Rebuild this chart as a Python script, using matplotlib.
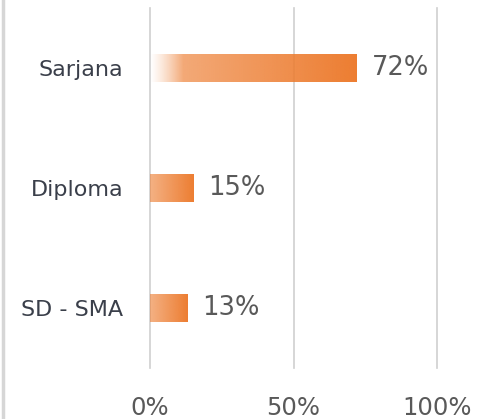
import numpy as np
import matplotlib.pyplot as plt
from matplotlib.colors import to_rgb
from matplotlib.lines import Line2D

# dane
kategorie = ['Sarjana', 'Diploma', 'SD - SMA']
nilai = [72, 15, 13]
tick_vals = [0, 50, 100]
tick_labels = ['0%', '50%', '100%']

oranye = to_rgb('#ED7D31')

fig = plt.figure(figsize=(4.79, 4.19), dpi=100)
ax = fig.add_axes([150 / 479, 1 - 368 / 419, 287 / 479, 360 / 419])

y = np.arange(len(kategorie))
bars = ax.barh(y, nilai, height=0.233, color='none', edgecolor='none')

# gradien dari kiri (pucat) ke kanan (oranye)
for b in bars:
    x0, y0 = b.get_x(), b.get_y()
    w, h = b.get_width(), b.get_height()
    t = np.linspace(0, 1, 256)
    if w > 40:
        alpha = (0.6 + 0.4 * t) * np.clip(t / 0.16, 0, 1) ** 1.2
    else:
        alpha = 0.6 + 0.4 * t
    rgba = np.zeros((1, 256, 4))
    rgba[..., :3] = oranye
    rgba[..., 3] = alpha
    im = ax.imshow(rgba, extent=[x0, x0 + w, y0, y0 + h], aspect='auto',
                   interpolation='bilinear', zorder=3)
    im.set_clip_path(b)

for yi, v in zip(y, nilai):
    ax.annotate(f'{v}%', (v, yi), xytext=(15, 0), textcoords='offset pixels',
                va='center', ha='left', fontsize=18.5, color='#595959')

ax.set_xlim(0, 100)
ax.set_ylim(len(kategorie) - 0.5, -0.5)
ax.set_yticks(y)
ax.set_yticklabels(kategorie, fontsize=16, color='#3A3F4A')
ax.set_xticks(tick_vals)
ax.set_xticklabels(tick_labels, fontsize=17.5, color='#595959')
ax.tick_params(axis='both', length=0)
ax.tick_params(axis='y', pad=19)
ax.tick_params(axis='x', pad=20)

for s in ax.spines.values():
    s.set_visible(False)
ax.grid(axis='x', color='#CFCFCF', linewidth=1.2)
ax.set_axisbelow(True)
for g in ax.get_xgridlines():
    g.set_clip_on(False)

# garis tepi kiri
fig.add_artist(Line2D([0.006, 0.006], [0, 1], color='#D6D6D6', linewidth=2.5))

fig.savefig('out.png', dpi=100)
